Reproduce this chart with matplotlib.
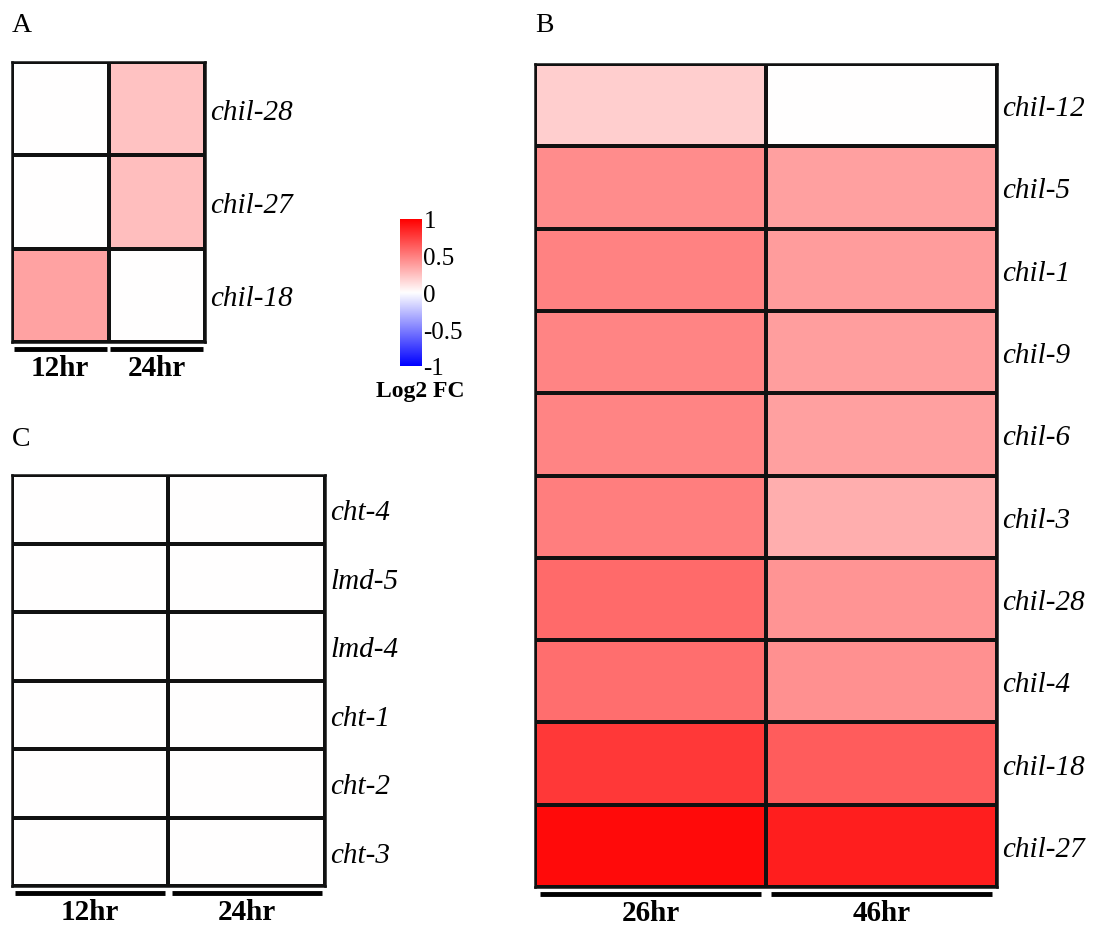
import matplotlib.pyplot as plt
import numpy as np
from matplotlib.colors import LinearSegmentedColormap

plt.rcParams["font.family"] = ["Liberation Serif", "DejaVu Serif"]

# panel A
genes_a = ["chil-28", "chil-27", "chil-18"]
times_a = ["12hr", "24hr"]
fc_a = [[0.0, 0.24],
        [0.0, 0.25],
        [0.36, 0.0]]

# panel B
genes_b = ["chil-12", "chil-5", "chil-1", "chil-9", "chil-6",
           "chil-3", "chil-28", "chil-4", "chil-18", "chil-27"]
times_b = ["26hr", "46hr"]
fc_b = [[0.19, 0.0],
        [0.45, 0.37],
        [0.49, 0.39],
        [0.48, 0.38],
        [0.48, 0.37],
        [0.50, 0.32],
        [0.58, 0.42],
        [0.57, 0.43],
        [0.78, 0.64],
        [0.96, 0.88]]

# panel C
genes_c = ["cht-4", "lmd-5", "lmd-4", "cht-1", "cht-2", "cht-3"]
times_c = ["12hr", "24hr"]
fc_c = [[0.0, 0.0]] * 6

cmap = LinearSegmentedColormap.from_list("bwr2", ["#0000ff", "#ffffff", "#ff0000"])

W, H = 1101, 929
fig = plt.figure(figsize=(W / 100, H / 100), dpi=100)


def px_axes(x0, y0, x1, y1):
    return fig.add_axes([x0 / W, 1 - y1 / H, (x1 - x0) / W, (y1 - y0) / H])


def heat(ax, data, genes, times, h, fs=21):
    data = np.array(data)
    ax.pcolormesh(data, cmap=cmap, vmin=-1, vmax=1,
                  edgecolors="#111111", linewidth=1.5)
    ax.set_xlim(0, data.shape[1])
    ax.set_ylim(data.shape[0], 0)
    ax.set_xticks([])
    ax.set_yticks(np.arange(len(genes)) + 0.5)
    ax.set_yticklabels(genes, style="italic", fontsize=fs)
    ax.yaxis.tick_right()
    ax.tick_params(axis="y", length=0, pad=4)
    for s in ax.spines.values():
        s.set_linewidth(1.8)
        s.set_color("#111111")
    n = len(times)
    # thick bar under each column, then the time label
    for i, t in enumerate(times):
        ax.plot([i / n + 0.01, (i + 1) / n - 0.01], [-7 / h, -7 / h],
                transform=ax.transAxes, color="black", lw=3.5, clip_on=False,
                solid_capstyle="butt")
        ax.text((i + 0.5) / n, -12 / h, t, transform=ax.transAxes,
                ha="center", va="top", fontsize=fs, fontweight="bold")


ax_a = px_axes(12, 63, 205, 343)
heat(ax_a, fc_a, genes_a, times_a, 280)

ax_b = px_axes(535, 65, 997, 888)
heat(ax_b, fc_b, genes_b, times_b, 823)

ax_c = px_axes(12, 476, 325, 887)
heat(ax_c, fc_c, genes_c, times_c, 411)

fig.text(12 / W, 1 - 25 / H, "A", fontsize=20, va="center")
fig.text(535 / W, 1 - 25 / H, "B", fontsize=20, va="center")
fig.text(12 / W, 1 - 440 / H, "C", fontsize=20, va="center")

# colour bar
cax = px_axes(400, 220, 422, 367)
grad = np.linspace(-1, 1, 256).reshape(-1, 1)
cax.imshow(grad, cmap=cmap, vmin=-1, vmax=1, aspect="auto",
           origin="lower", extent=[0, 1, -1, 1])
cax.set_xticks([])
cax.yaxis.tick_right()
cax.set_yticks([-1, -0.5, 0, 0.5, 1])
cax.set_yticklabels(["-1", "-0.5", "0", "0.5", "1"], fontsize=18)
cax.tick_params(axis="y", length=0, pad=1)
for s in cax.spines.values():
    s.set_visible(False)
fig.text(420 / W, 1 - 392 / H, "Log2 FC", fontsize=17, fontweight="bold",
         ha="center", va="center")

fig.savefig("out.png", dpi=100)
